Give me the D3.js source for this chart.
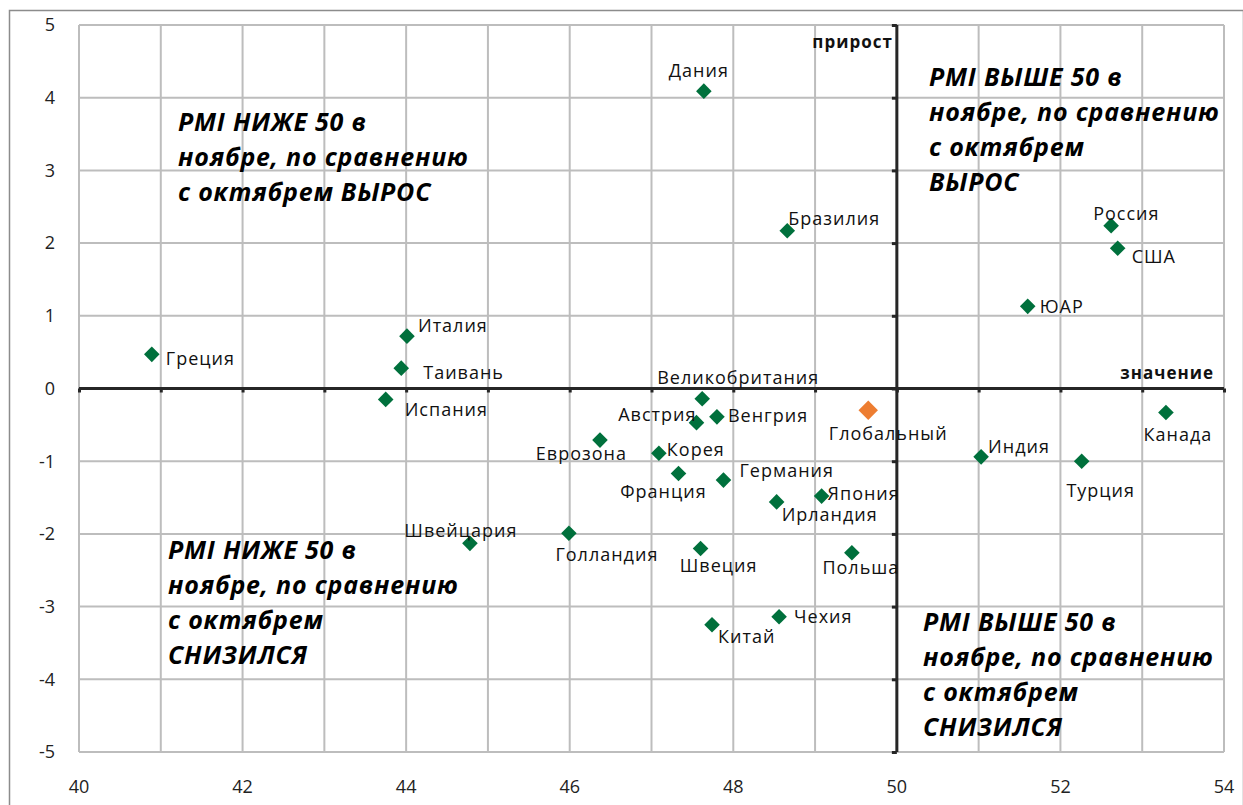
<!DOCTYPE html>
<html><head><meta charset="utf-8">
<script src="https://cdnjs.cloudflare.com/ajax/libs/d3/7.8.5/d3.min.js"></script>
<style>
html,body{margin:0;padding:0;background:#fff;}
svg{display:block;}
</style></head>
<body>
<script>
// ---- data ----
const countries = ["Греция","Италия","Таивань","Испания","Дания","Бразилия","Россия","США","ЮАР","Канада","Индия","Турция","Великобритания","Австрия","Венгрия","Еврозона","Корея","Франция","Германия","Ирландия","Япония","Голландия","Швеция","Польша","Швейцария","Чехия","Китай"];
const pmiNov = [40.89,44.01,43.94,43.75,47.64,48.66,52.62,52.70,51.60,53.29,51.03,52.26,47.62,47.55,47.80,46.37,47.09,47.33,47.88,48.53,49.08,45.99,47.60,49.45,44.78,48.56,47.74];
const pmiChange = [0.47,0.72,0.28,-0.15,4.09,2.17,2.24,1.93,1.13,-0.33,-0.94,-1.00,-0.14,-0.47,-0.39,-0.71,-0.89,-1.17,-1.26,-1.56,-1.48,-1.99,-2.20,-2.26,-2.13,-3.14,-3.25];
const globalName = ["Глобальный"];
const globalPmi = [49.65];
const globalChange = [-0.30];
const xTicks = [40,42,44,46,48,50,52,54];
const yTicks = [5,4,3,2,1,0,-1,-2,-3,-4,-5];
const xAxisTitle = "значение";
const yAxisTitle = "прирост";
const quadrantTexts = [
  ["PMI НИЖЕ 50 в","ноябре, по сравнению","с октябрем ВЫРОС"],
  ["PMI ВЫШЕ 50 в","ноябре, по сравнению","с октябрем","ВЫРОС"],
  ["PMI НИЖЕ 50 в","ноябре, по сравнению","с октябрем","СНИЗИЛСЯ"],
  ["PMI ВЫШЕ 50 в","ноябре, по сравнению","с октябрем","СНИЗИЛСЯ"]
];

// ---- label layout (offsets from marker, px) ----
const labelLayout = {
  "Греция":[14,4,"start"],"Италия":[11,-10,"start"],"Таивань":[22,5,"start"],"Испания":[19,10,"start"],
  "Дания":[-5,-20,"middle"],"Бразилия":[1,-12,"start"],"Россия":[-18,-12,"start"],"США":[14,9,"start"],
  "ЮАР":[12,0,"start"],"Канада":[12,22,"middle"],"Индия":[7,-10,"start"],"Турция":[19,29,"middle"],
  "Великобритания":[36,-21,"middle"],"Австрия":[0,-8,"end"],"Венгрия":[11,-1,"start"],"Еврозона":[27,14,"end"],
  "Корея":[8,-4,"start"],"Франция":[-15,18,"middle"],"Германия":[16,-9,"start"],"Ирландия":[5,13,"start"],
  "Япония":[6,-2,"start"],"Голландия":[38,22,"middle"],"Швеция":[18,17,"middle"],"Польша":[9,15,"middle"],
  "Швейцария":[-9,-13,"middle"],"Чехия":[15,0,"start"],"Китай":[6,12,"start"],"Глобальный":[20,23,"middle"]
};

const W = 1243, H = 805;
const svg = d3.select("body").append("svg").attr("width", W).attr("height", H);
const font = "'Open Sans', 'Noto Sans', sans-serif";

svg.append("rect").attr("x",9.5).attr("y",10.5).attr("width",W-9).attr("height",H).attr("fill","none").attr("stroke","#8c8c8c").attr("stroke-width",1.5);

const x = d3.scaleLinear().domain([40,54]).range([79,1224]);
const y = d3.scaleLinear().domain([-5,5]).range([752,25]);

const g = svg.append("g");
// gridlines
g.selectAll(".vg").data(d3.range(40,55,1)).join("line")
  .attr("x1",d=>x(d)).attr("x2",d=>x(d)).attr("y1",y(5)).attr("y2",y(-5))
  .attr("stroke","#bdbdbd").attr("stroke-width",2);
g.selectAll(".hg").data(d3.range(-5,6,1)).join("line")
  .attr("y1",d=>y(d)).attr("y2",d=>y(d)).attr("x1",x(40)).attr("x2",x(54))
  .attr("stroke","#bdbdbd").attr("stroke-width",2);

// tick labels
g.selectAll(".yt").data(yTicks).join("text")
  .attr("x",55).attr("y",d=>y(d)).attr("dy","0.35em").attr("text-anchor","end")
  .attr("font-family",font).attr("font-size",18).attr("fill","#222").text(d=>d);
g.selectAll(".xt").data(xTicks).join("text")
  .attr("x",d=>x(d)).attr("y",787).attr("dy","0.35em").attr("text-anchor","middle")
  .attr("font-family",font).attr("font-size",18).attr("fill","#222").text(d=>d);

// crossing axes
const xAx = d3.axisBottom(x).tickValues(d3.range(40,55,1)).tickSize(4).tickFormat("");
const xa = g.append("g").attr("transform",`translate(0,${y(0)})`).call(xAx);
const yAx = d3.axisLeft(y).tickValues(d3.range(-5,6,1)).tickSize(5).tickFormat("");
const ya = g.append("g").attr("transform",`translate(${x(50)},0)`).call(yAx);
[xa,ya].forEach(a=>{
  a.select(".domain").attr("stroke","#262626").attr("stroke-width",3).attr("d", a===xa ? `M${x(40)},0H${x(54)}` : `M0,${y(5)}V${y(-5)}`);
  a.selectAll(".tick line").attr("stroke","#262626").attr("stroke-width",3);
});

// axis titles
g.append("text").attr("x",x(50)-4).attr("y",42).attr("dy","0.35em").attr("text-anchor","end")
  .attr("font-family",font).attr("font-weight","bold").attr("font-size",17).attr("letter-spacing",1).attr("fill","#111").text(yAxisTitle);
g.append("text").attr("x",1214).attr("y",373).attr("dy","0.35em").attr("text-anchor","end")
  .attr("font-family",font).attr("font-weight","bold").attr("font-size",17).attr("letter-spacing",1).attr("fill","#111").text(xAxisTitle);

// quadrant texts
const qPos = [[178,122],[929,77],[168,550],[923,622]];
quadrantTexts.forEach((lines,i)=>{
  const t = g.append("text").attr("font-family",font).attr("font-weight","bold").attr("font-style","italic")
    .attr("font-size",25).attr("letter-spacing",0.8).attr("fill","#000");
  lines.forEach((l,j)=>{
    t.append("tspan").attr("x",qPos[i][0]).attr("y",qPos[i][1]+j*35).attr("dy","0.35em").text(l);
  });
});

// points
const pts = countries.map((c,i)=>({name:c,x:pmiNov[i],y:pmiChange[i],global:false}));
pts.push({name:globalName[0],x:globalPmi[0],y:globalChange[0],global:true});

const diamond = d3.symbol().type(d3.symbolDiamond2);
g.selectAll(".pt").data(pts).join("path")
  .attr("transform",d=>`translate(${x(d.x)},${y(d.y)})`)
  .attr("d",d=>diamond.size(d.global?240:155)())
  .attr("fill",d=>d.global?"#ED7D31":"#00703C");

g.selectAll(".lbl").data(pts).join("text")
  .attr("x",d=>x(d.x)+labelLayout[d.name][0]).attr("y",d=>y(d.y)+labelLayout[d.name][1])
  .attr("dy","0.35em").attr("text-anchor",d=>labelLayout[d.name][2])
  .attr("font-family",font).attr("font-size",18).attr("letter-spacing",1).attr("fill","#111").text(d=>d.name);
</script>
</body></html>
